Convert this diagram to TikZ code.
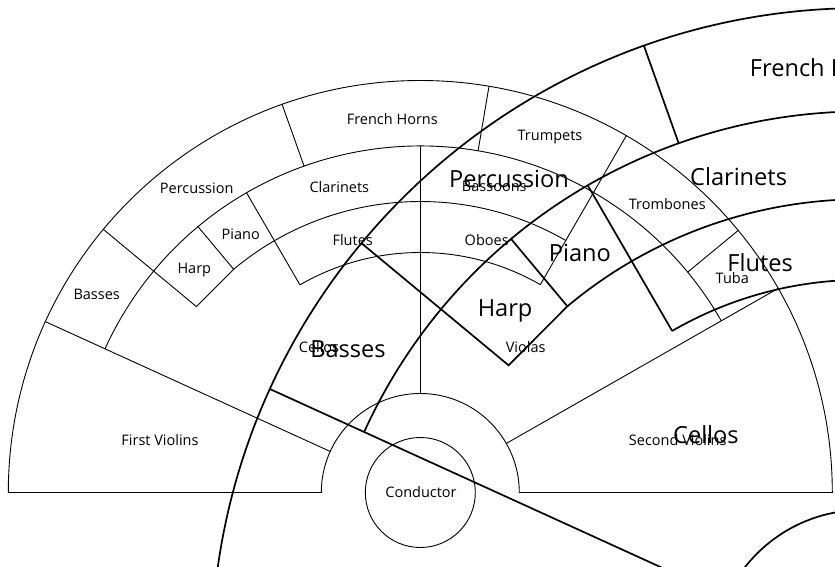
\documentclass[tikz,border=0pt]{standalone}
\usepackage{fontspec}
\setmainfont{Open Sans}
% #1 name prefix, #2 chart centre, #3 chart scale, #4 label centre, #5 label scale,
% #6 inner radius, #7 line width, #8 font size
\newcommand{\orchchart}[8]{%
  \begin{scope}[shift={#2}, scale=#3, line width=#7]
    \draw (180:412) arc[start angle=180, end angle=0, radius=412]
       -- (0:#6) arc[start angle=0, end angle=180, radius=#6] -- cycle;
    \draw (155.5:346.5) arc[start angle=155.5, end angle=29.7, radius=346.5];
    \draw (129.9:291) arc[start angle=129.9, end angle=60, radius=291];
    \draw (120.1:240) arc[start angle=120.1, end angle=60, radius=240];
    \draw (155.5:412) -- (155.5:#6);
    \draw (140.3:412) -- (140.3:291) -- (129.9:291) -- (129.9:346.5);
    \draw (120.1:346.5) -- (120.1:240);
    \draw (109.6:412) -- (109.6:346.5);
    \draw (90:346.5) -- (90:#6);
    \draw (80.4:412) -- (80.4:346.5);
    \draw (60:412) -- (60:240);
    \draw (39.5:412) -- (39.5:346.5);
    \draw (29.7:412) -- (29.7:#6);
    \draw (0,0) circle[radius=55];
  \end{scope}
  \begin{scope}[shift={#4}, scale=#5,
      every node/.style={font=\fontsize{#8}{#8}\selectfont, inner sep=0pt}]
    \node (#1cond) at (0.7,0) {Conductor};
    \foreach \n/\t/\x/\y in {bas/Basses/-323.6/198.5,
        fvi/First Violins/-260.3/52.5,
        per/Percussion/-223.6/304.2,
        hrp/Harp/-226/222.5,
        pno/Piano/-179.6/258.5,
        cla/Clarinets/-81/305.8,
        flu/Flutes/-67.6/252.5,
        frh/French Horns/-28/373.2,
        bsn/Bassoons/74/305.8,
        obo/Oboes/66.4/252.5,
        tpt/Trumpets/129.7/355.2,
        tbn/Trombones/247/288.2,
        tba/Tuba/312/214.2,
        vla/Violas/105.4/145.2,
        vcl/Cellos/-101.3/145.8,
        svi/Second Violins/257.4/52.5}
      \node (#1\n) at (\x,\y) {\t};
  \end{scope}
}
\begin{document}
\begin{tikzpicture}[x=1pt, y=1pt]
  \useasboundingbox (0,0) rectangle (835,566);
  \clip (0,0) rectangle (835,566);
  \orchchart{s}{(420.3,73.5)}{1}{(420.3,73.5)}{1}{99}{0.9pt}{14.5}
  \orchchart{b}{(862.3,-93)}{1.58}{(869,-103)}{1.61}{94.3}{1.7pt}{23.6}
\end{tikzpicture}
\end{document}
